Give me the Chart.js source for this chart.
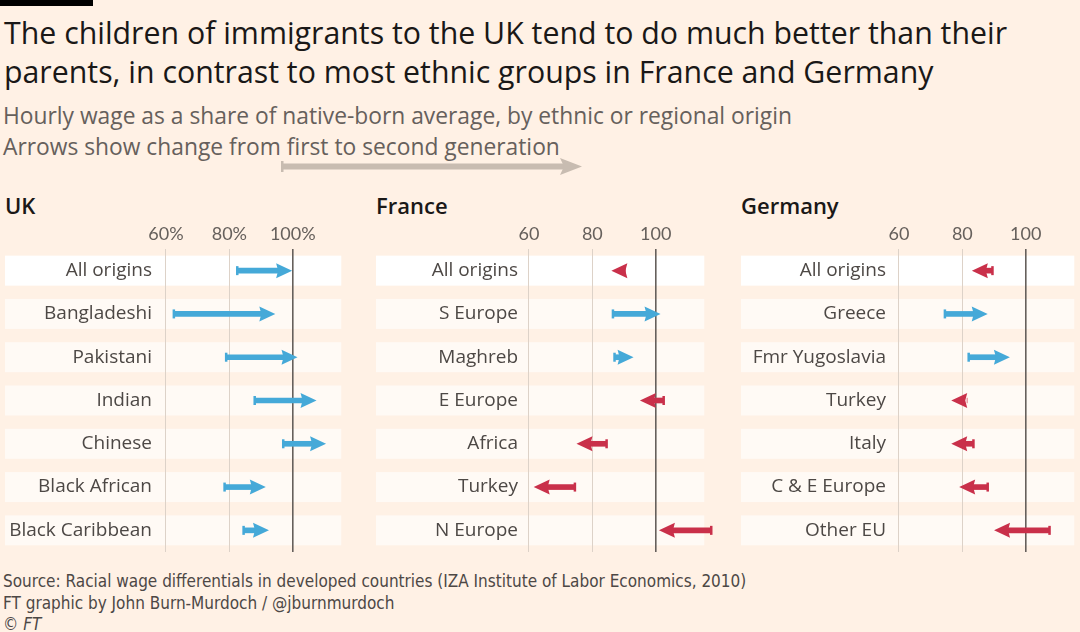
<!DOCTYPE html>
<html>
<head>
<meta charset="utf-8">
<script src="https://cdn.jsdelivr.net/npm/chart.js@4.4.1/dist/chart.umd.min.js"></script>
<style>
  body { margin: 0; width: 1080px; height: 632px; overflow: hidden; position: relative;
         background: #fff1e5; font-family: "Open Sans", Lato, sans-serif; }
  .bar { position: absolute; left: 0; top: 0; width: 93px; height: 6px; background: #000; }
  .title { position: absolute; left: 4px; top: 13px; font-size: 30.3px; line-height: 39px; color: #1a1817; }
  .sub { position: absolute; left: 3px; top: 100px; font-size: 22.8px; line-height: 31px; color: #66605c; }
  .panel-title { position: absolute; top: 193px; font-size: 22px; line-height: 25px; font-weight: 600; color: #1a1817; }
  .panel { position: absolute; top: 215px; height: 337px; }
  .foot { position: absolute; left: 3px; top: 571px; font-size: 17px; line-height: 21.5px; color: #4d4845;
          font-family: "Liberation Sans Narrow", "DejaVu Sans Condensed", sans-serif; }
  svg.key { position: absolute; left: 0; top: 0; }
</style>
</head>
<body>
<div class="bar"></div>
<div class="title">The children of immigrants to the UK tend to do much better than their<br>parents, in contrast to most ethnic groups in France and Germany</div>
<div class="sub">Hourly wage as a share of native-born average, by ethnic or regional origin<br>Arrows show change from first to second generation</div>
<svg class="key" width="600" height="190">
  <rect x="281" y="161" width="2.5" height="11" fill="#c8bcb1"/>
  <rect x="282" y="163.5" width="282" height="6" fill="#c8bcb1"/>
  <polygon points="582,166.5 560,158 564,166.5 560,175" fill="#c8bcb1"/>
</svg>

<div class="panel-title" style="left:5px">UK</div>
<div class="panel-title" style="left:376px">France</div>
<div class="panel-title" style="left:741px">Germany</div>

<div class="panel" style="left:5px;width:348px"><canvas id="uk"></canvas></div>
<div class="panel" style="left:376px;width:340px"><canvas id="fr"></canvas></div>
<div class="panel" style="left:741px;width:345px"><canvas id="de"></canvas></div>

<div class="foot">Source: Racial wage differentials in developed countries (IZA Institute of Labor Economics, 2010)<br>FT graphic by John Burn-Murdoch / @jburnmurdoch<br>&copy; <i>FT</i></div>

<script>
// values: wage as % of native-born average
const tickValues = [60, 80, 100];

const ukLabels = ['All origins', 'Bangladeshi', 'Pakistani', 'Indian', 'Chinese', 'Black African', 'Black Caribbean'];
const ukFirst  = [82.5, 62.5, 79, 88, 97, 78.5, 84.5];
const ukSecond = [99.8, 94.5, 101.5, 107.5, 110.5, 91.5, 92.5];

const frLabels = ['All origins', 'S Europe', 'Maghreb', 'E Europe', 'Africa', 'Turkey', 'N Europe'];
const frFirst  = [90.5, 86.5, 87, 102.5, 84.5, 74.5, 117.5];
const frSecond = [86, 101.5, 93, 95, 75, 61.5, 101];

const deLabels = ['All origins', 'Greece', 'Fmr Yugoslavia', 'Turkey', 'Italy', 'C & E Europe', 'Other EU'];
const deFirst  = [89.5, 74.5, 82, 81.5, 83.5, 88, 107.5];
const deSecond = [83, 88, 95, 76.5, 76.5, 79, 90];

const BLUE = '#45a9d8';
const RED = '#c9304a';
const HEAD_LEN = 16, HEAD_H = 15, CAP_H = 9;
const BAND_END = 115.3;

function makePanel(id, labels, first, second, yWidth, labelPad, suffix) {
  const colors = first.map((f, i) => second[i] >= f ? BLUE : RED);

  const arrows = {
    id: 'arrows',
    beforeDraw(chart) {
      const {ctx, scales: {x, y}} = chart;
      ctx.save();
      labels.forEach((l, i) => {
        const cy = y.getPixelForValue(i);
        ctx.fillStyle = i === 0 ? '#ffffff' : 'rgba(255,255,255,0.62)';
        ctx.fillRect(0, cy - 15, x.getPixelForValue(BAND_END), 30);
      });
      ctx.restore();
    },
    afterDatasetsUpdate(chart) {
      const x = chart.scales.x;
      chart.getDatasetMeta(0).data.forEach((bar, i) => {
        const tail = x.getPixelForValue(first[i]);
        const tip = x.getPixelForValue(second[i]);
        const dir = Math.sign(tip - tail);
        bar.base = tail;
        bar.x = Math.abs(tip - tail) > HEAD_LEN ? tip - dir * (HEAD_LEN - 3) : tail;
      });
    },
    afterDatasetsDraw(chart) {
      const {ctx, scales: {x, y}} = chart;
      ctx.save();
      labels.forEach((l, i) => {
        const cy = y.getPixelForValue(i);
        const tail = x.getPixelForValue(first[i]);
        const tip = x.getPixelForValue(second[i]);
        const dir = Math.sign(tip - tail) || 1;
        ctx.fillStyle = colors[i];
        if (Math.abs(tip - tail) > HEAD_LEN) {
          ctx.fillRect(tail - 1.25, cy - CAP_H / 2, 2.5, CAP_H);
        }
        ctx.beginPath();
        ctx.moveTo(tip, cy);
        ctx.lineTo(tip - dir * HEAD_LEN, cy - HEAD_H / 2);
        ctx.lineTo(tip - dir * (HEAD_LEN - 2), cy);
        ctx.lineTo(tip - dir * HEAD_LEN, cy + HEAD_H / 2);
        ctx.closePath();
        ctx.fill();
      });
      ctx.restore();
    }
  };

  new Chart(document.getElementById(id), {
    type: 'bar',
    data: {
      labels: labels,
      datasets: [{
        data: first.map((f, i) => [f, second[i]]),
        backgroundColor: colors,
        borderWidth: 0,
        barThickness: 5
      }]
    },
    options: {
      indexAxis: 'y',
      responsive: true,
      maintainAspectRatio: false,
      animation: false,
      events: [],
      layout: { padding: 0 },
      plugins: { legend: { display: false }, tooltip: { enabled: false } },
      scales: {
        x: {
          type: 'linear',
          position: 'top',
          min: 57.5,
          max: 119,
          afterBuildTicks: s => { s.ticks = tickValues.map(v => ({ value: v })); },
          afterFit: s => { s.height = 34; s.paddingLeft = 0; s.paddingRight = 0; },
          border: { display: false },
          grid: {
            drawTicks: false,
            color: c => c.tick && c.tick.value === 100 ? '#66605c' : '#ddd2c8',
            lineWidth: c => c.tick && c.tick.value === 100 ? 1.6 : 1
          },
          ticks: {
            padding: 4,
            maxRotation: 0,
            color: '#66605c',
            font: { family: 'Lato', size: 18 },
            callback: v => v + suffix
          }
        },
        y: {
          type: 'category',
          afterFit: s => { s.width = yWidth; s.paddingTop = 0; s.paddingBottom = 0; },
          border: { display: false },
          grid: { display: false, drawTicks: false },
          ticks: {
            padding: labelPad,
            color: '#4d4845',
            font: { family: 'Open Sans', size: 19 }
          }
        }
      }
    },
    plugins: [arrows]
  });
}

makePanel('uk', ukLabels, ukFirst, ukSecond, 153, 6, '%');
makePanel('fr', frLabels, frFirst, frSecond, 145, 3, '');
makePanel('de', deLabels, deFirst, deSecond, 150, 5, '');
</script>
</body>
</html>
